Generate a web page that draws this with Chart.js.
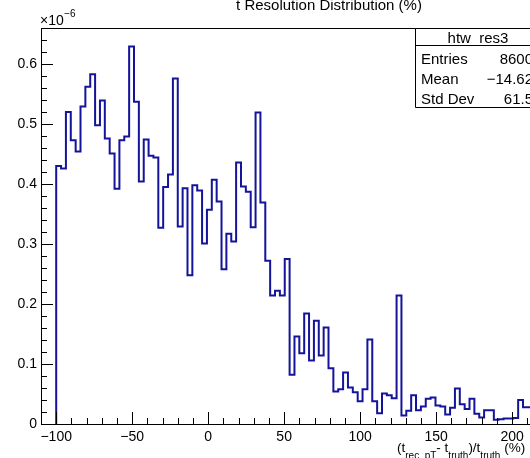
<!DOCTYPE html>
<html><head><meta charset="utf-8">
<script src="https://cdn.jsdelivr.net/npm/chart.js@4/dist/chart.umd.min.js"></script>
<style>html,body{margin:0;padding:0;background:#fff;overflow:hidden}</style>
</head><body>
<canvas id="c" width="530" height="458"></canvas>
<script>
// ---- data ----
const binStart = -100;
const binWidth = 3.2;
const binValues = [
  0.430,0.426,0.520,0.473,0.454,0.529,0.562,0.583,0.498,0.539,
  0.476,0.451,0.392,0.473,0.479,0.629,0.537,0.404,0.474,0.447,
  0.444,0.327,0.395,0.416,0.576,0.329,0.393,0.248,0.398,0.389,
  0.301,0.357,0.407,0.371,0.258,0.317,0.304,0.436,0.396,0.387,
  0.328,0.519,0.369,0.272,0.214,0.222,0.214,0.275,0.082,0.146,
  0.118,0.184,0.106,0.172,0.114,0.161,0.093,0.054,0.058,0.086,
  0.061,0.053,0.038,0.058,0.141,0.038,0.018,0.051,0.048,0.043,
  0.214,0.014,0.022,0.048,0.023,0.029,0.042,0.044,0.031,0.029,
  0.016,0.027,0.059,0.033,0.025,0.042,0.017,0.011,0.023,0.023,
  0.007,0.008,0.009,0.009,0.010,0.040,0.028,0.028
];
const xTickValues = [-100,-50,0,50,100,150,200];
const yTickValues = [0,0.1,0.2,0.3,0.4,0.5,0.6];
const xMinorStep = 10;
const yMinorStep = 0.02;
const histName = 'htw_res3';
const statsLabels = ['Entries','Mean','Std Dev'];
const statsValues = ['8600','\u221214.62','61.5'];
const titleText = 't Resolution Distribution (%)';
const yExponent = '\u22126';

// ---- build step points from bins ----
const pts = [{x: binStart, y: 0}];
binValues.forEach((v, i) => pts.push({x: binStart + i * binWidth, y: v}));
pts.push({x: binStart + binValues.length * binWidth, y: binValues[binValues.length - 1]});

const FONT = "'Liberation Sans', Arial, Helvetica, sans-serif";
const minus = s => String(s).replace('-', '\u2212');

const rootPlugin = {
  id: 'rootFrame',
  afterDraw(chart) {
    const {ctx, chartArea: a, scales: {x, y}} = chart;
    ctx.save();
    ctx.strokeStyle = '#000';
    ctx.lineWidth = 1;
    ctx.beginPath();
    ctx.moveTo(a.left + 0.5, a.bottom + 0.5);
    ctx.lineTo(a.left + 0.5, a.top + 0.5);
    ctx.lineTo(a.right + 10, a.top + 0.5);
    ctx.moveTo(a.left, a.bottom + 0.5);
    ctx.lineTo(a.right + 10, a.bottom + 0.5);
    // x ticks (inward)
    for (let k = Math.ceil(x.min / xMinorStep); k * xMinorStep <= x.max; k++) {
      const v = k * xMinorStep;
      const px = Math.round(x.getPixelForValue(v)) + 0.5;
      const len = xTickValues.includes(v) ? 12 : 6;
      ctx.moveTo(px, a.bottom);
      ctx.lineTo(px, a.bottom - len);
    }
    // y ticks (inward)
    for (let k = 0; k * yMinorStep <= y.max + 1e-9; k++) {
      const v = k * yMinorStep;
      const py = Math.round(y.getPixelForValue(v)) + 0.5;
      const len = (k % 5 === 0) ? 12 : 6;
      ctx.moveTo(a.left, py);
      ctx.lineTo(a.left + len, py);
    }
    ctx.stroke();

    // stats box
    const bx = 415.5, by = a.top + 0.5, bw = 140, bh = 79;
    ctx.fillStyle = '#fff';
    ctx.fillRect(bx, by, bw, bh);
    ctx.beginPath();
    ctx.rect(bx, by, bw, bh);
    ctx.moveTo(bx, by + 17);
    ctx.lineTo(bx + bw, by + 17);
    ctx.stroke();
    ctx.fillStyle = '#000';
    ctx.textBaseline = 'alphabetic';
    ctx.font = '15px ' + FONT;
    ctx.textAlign = 'center';
    ctx.fillText(histName, 478, by + 14);
    const rowY = [64, 84, 104];
    statsLabels.forEach((l, i) => {
      ctx.textAlign = 'left';
      ctx.fillText(l, 421, rowY[i]);
      ctx.textAlign = 'right';
      ctx.fillText(statsValues[i], 533, rowY[i]);
    });

    // title (cut at top)
    ctx.textAlign = 'center';
    ctx.font = '15px ' + FONT;
    ctx.fillText(titleText, 329, 10);

    // exponent label
    ctx.textAlign = 'left';
    ctx.font = '14px ' + FONT;
    ctx.fillText('\u00d710', 40, 25);
    const w10 = ctx.measureText('\u00d710').width;
    ctx.font = '10px ' + FONT;
    ctx.fillText(yExponent, 40 + w10 + 0.5, 17);

    // x-axis title with subscripts
    const segs = [
      ['(t', 0], ['rec_pT', 1], ['- t', 0], ['truth', 1], [')/t', 0], ['truth', 1], [' (%)', 0]
    ];
    let cx = 397;
    segs.forEach(([t, sub]) => {
      ctx.font = (sub ? '10px ' : '13.5px ') + FONT;
      ctx.fillText(t, cx, sub ? 459 : 452);
      cx += ctx.measureText(t).width;
    });
    ctx.restore();
  }
};

new Chart(document.getElementById('c'), {
  type: 'line',
  data: {
    datasets: [{
      data: pts,
      stepped: 'before',
      borderColor: '#14149a',
      borderWidth: 2,
      pointRadius: 0,
      fill: false,
      tension: 0
    }]
  },
  options: {
    responsive: false,
    animation: false,
    events: [],
    layout: {padding: {top: 28, left: 0, right: 0, bottom: 0}},
    plugins: {legend: {display: false}, title: {display: false}, tooltip: {enabled: false}},
    scales: {
      x: {
        type: 'linear',
        min: -110,
        max: 211.8,
        grid: {display: false, drawTicks: false},
        border: {display: false},
        afterBuildTicks: s => { s.ticks = xTickValues.map(v => ({value: v})); },
        afterFit: s => { s.height = 34; },
        ticks: {
          autoSkip: false, maxRotation: 0, padding: 5,
          color: '#000', font: {family: FONT, size: 14},
          callback: v => minus(v)
        }
      },
      y: {
        type: 'linear',
        min: 0,
        max: 0.66,
        grid: {display: false, drawTicks: false},
        border: {display: false},
        afterBuildTicks: s => { s.ticks = yTickValues.map(v => ({value: v})); },
        afterFit: s => { s.width = 41; },
        ticks: {
          autoSkip: false, padding: 4,
          color: '#000', font: {family: FONT, size: 14},
          callback: v => v === 0 ? '0' : v.toFixed(1)
        }
      }
    }
  },
  plugins: [rootPlugin]
});
</script>
</body></html>
